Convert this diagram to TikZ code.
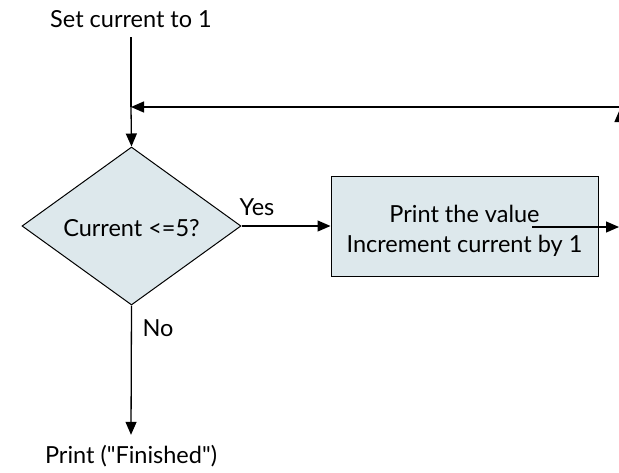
\documentclass[tikz,border=0pt]{standalone}
\usepackage{fontspec}
\setmainfont{Lato}[Ligatures=TeXOff]
\usetikzlibrary{shapes.geometric,arrows.meta}
\definecolor{boxfill}{RGB}{221,232,236}
\tikzset{
  conn/.style={line width=1.3pt,-{Triangle[length=13pt,width=11pt]}},
  plain/.style={line width=1.3pt},
  lbl/.style={inner sep=0pt,font=\fontsize{23.5}{28}\selectfont},
  decision/.style={diamond,draw,line width=1pt,fill=boxfill,inner sep=0pt,minimum width=219pt,minimum height=158pt,text height=20pt,text depth=0pt,font=\fontsize{23.5}{28}\selectfont},
  procbox/.style={rectangle,draw,line width=1pt,fill=boxfill,minimum width=267pt,minimum height=100pt,align=center,text height=57pt,text depth=5pt,font=\fontsize{23.5}{30}\selectfont},
}
\begin{document}
\begin{tikzpicture}[x=1pt,y=-1pt]
\useasboundingbox (0,0) rectangle (619,472);
\clip (0,0) rectangle (619,472);
\node[lbl,anchor=base,text depth=0pt,inner ysep=10pt] (start) at (131,27) {Set current to 1};
\node[decision] (dec) at (131.5,226) {Current <=5?};
\node[procbox] (proc) at (464.5,226) {Print the value\\Increment current by 1};
\node[lbl,anchor=base,text height=17pt,inner ysep=11pt] (finish) at (131,463) {Print ("Finished")};
\node[lbl,anchor=base] (yes) at (257,215) {Yes};
\node[lbl,anchor=base] (no) at (158,336) {No};
\coordinate (join) at (131,107);
\coordinate (r1) at (625,107);
\coordinate (bx) at (532,227);
\coordinate (out) at (619,227);
\coordinate (up1) at (620,200);
\coordinate (up2) at (620,109);
\draw[plain] (start.south) -- (join);
\draw[conn] (join) -- (dec.north);
\draw[conn] (r1) -- (join);
\draw[conn] (dec.east) -- (proc.west);
\draw[conn] (bx) -- (out);
\draw[conn] (up1) -- (up2);
\draw[conn] (dec.south) -- (finish.north);
\end{tikzpicture}
\end{document}
